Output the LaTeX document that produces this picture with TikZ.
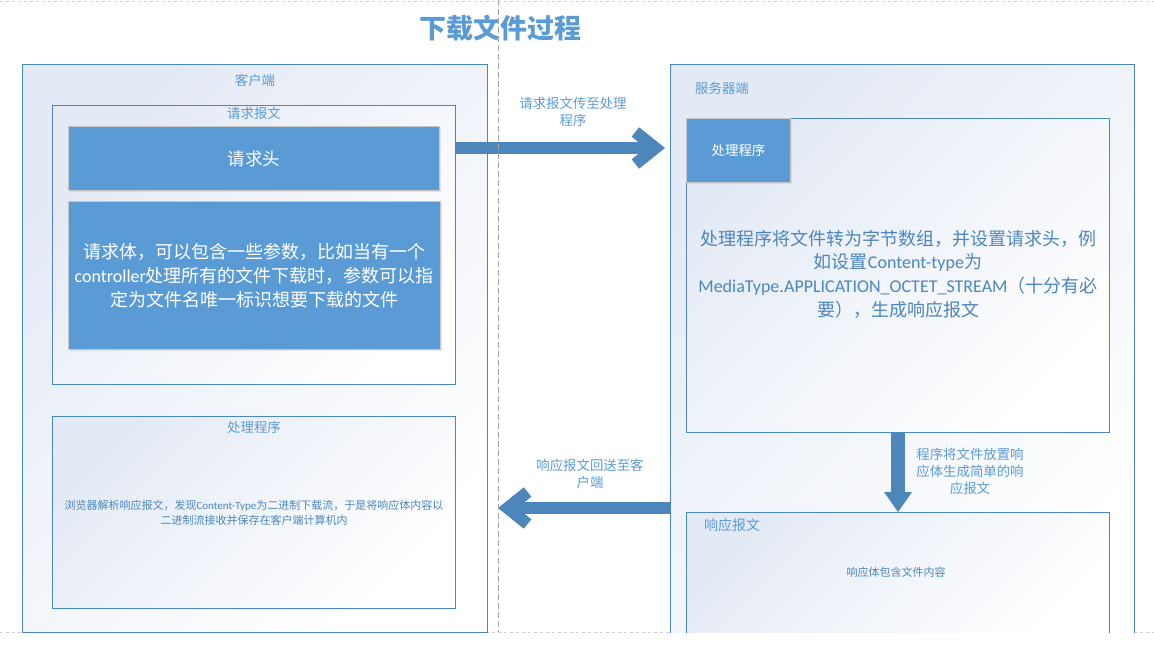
\documentclass[tikz,border=0pt]{standalone}
\usepackage{fontspec}
\setmainfont{Noto Sans CJK SC}
\newfontfamily\latf{Carlito}
\usetikzlibrary{arrows.meta,shadows,positioning}

\definecolor{boxblue}{HTML}{5B9BD5}
\definecolor{lineblue}{HTML}{4A86C0}
\definecolor{arrowblue}{HTML}{4D86BA}
\definecolor{textblue}{HTML}{5B9BD5}
\definecolor{shadebg}{HTML}{E4EAF5}

\tikzset{
  panel/.style={rectangle, draw=lineblue, line width=1pt, anchor=north west,
    top color=shadebg, bottom color=white, shading angle=45, inner sep=0pt},
  fillbox/.style={rectangle, draw=black!22, line width=1pt, fill=boxblue,
    anchor=north west, text=white, align=center,
    drop shadow={opacity=0.18, shadow xshift=1.5pt, shadow yshift=-1.5pt}},
  caption/.style={text=textblue, font=\fontsize{13.4}{17}\selectfont, align=center, inner sep=0pt},
  smalltext/.style={text=lineblue, font=\fontsize{11}{15}\selectfont, align=center, inner sep=0pt},
  fatarrow/.style={draw=arrowblue, line width=12pt,
    -{Straight Barb[length=20pt, width=32pt]}},
  downarrow/.style={draw=arrowblue, line width=14pt,
    -{Triangle[length=20pt, width=28pt, line width=0pt]}},
}

\begin{document}
\begin{tikzpicture}[x=1pt, y=-1pt]
  \useasboundingbox (0,0) rectangle (1154,649);

  % page guides
  \draw[black!18, dashed] (0,1) -- (1154,1);
  \draw[black!18, dashed] (0,632.5) -- (1154,632.5);
  \coordinate (divtop) at (498,0);
  \coordinate (divbot) at (498,632);

  \node[text=textblue, font=\fontsize{27}{30}\selectfont\bfseries] (title) at (500,28) {下载文件过程};

  % client side
  \node[panel, minimum width=465pt, minimum height=568pt] (client) at (22,64) {};
  \node[caption, below=10pt of client.north] (clientlbl) {客户端};

  \node[panel, minimum width=403pt, minimum height=279pt] (reqmsg) at (52,105) {};
  \node[caption, below=2pt of reqmsg.north] (reqmsglbl) {请求报文};
  \node[fillbox, minimum width=371pt, minimum height=64pt,
        font=\fontsize{17.5}{22}\selectfont] (reqhead) at (68,126) {请求头};
  \node[fillbox, minimum width=371pt, minimum height=148pt, text width=365pt,
        font=\fontsize{18}{24}\selectfont] (reqbody) at (68,201)
    {请求体，可以包含一些参数，比如当有一个\\{\latf controller}处理所有的文件下载时，参数可以指\\定为文件名唯一标识想要下载的文件};

  \node[panel, minimum width=403pt, minimum height=192pt] (clientproc) at (52,416) {};
  \node[caption, below=5pt of clientproc.north] (clientproclbl) {处理程序};
  \node[smalltext] (clientproctext) at (254,513)
    {浏览器解析响应报文，发现{\latf Content-Type}为二进制下载流，于是将响应体内容以\\二进制流接收并保存在客户端计算机内};

  % server side
  \begin{scope}
    \clip (660,0) rectangle (1154,632.5);
    \node[panel, minimum width=464pt, minimum height=576pt] (server) at (670,64) {};
    \node[panel, minimum width=423pt, minimum height=128pt] (resp) at (686,512) {};
  \end{scope}
  \node[caption, anchor=west] (serverlbl) at (695,88) {服务器端};

  \node[panel, minimum width=423pt, minimum height=314pt] (serverproc) at (686,118) {};
  \node[fillbox, minimum width=104pt, minimum height=64pt,
        font=\fontsize{13.4}{17}\selectfont] (proc) at (686,118) {处理程序};
  \node[text=lineblue, align=center, inner sep=0pt,
        font=\fontsize{18}{23.7}\selectfont] (serverproctext) at (898,274)
    {处理程序将文件转为字节数组，并设置请求头，例\\如设置{\latf Content-type}为\\{\latf MediaType.APPLICATION\_OCTET\_STREAM}（十分有必\\要），生成响应报文};

  \node[caption, anchor=west, font=\fontsize{14}{17}\selectfont] (resplbl) at (704,525) {响应报文};
  \node[smalltext] (resptext) at (896,572) {响应体包含文件内容};

  % connectors
  \draw[fatarrow] (reqmsg.east |- 0,148) -- ([xshift=-5pt]server.west |- 0,148);
  \node[caption] (reqlbl) at (573,112) {请求报文传至处理\\程序};

  \draw[downarrow] (serverproc.south) -- (resp.north);
  \node[caption] (downlbl) at (970,471) {程序将文件放置响\\应体生成简单的响\\应报文};

  \draw[fatarrow] (server.west |- 0,508) -- (divbot |- 0,508);
  \node[caption] (resplbl2) at (590,474) {响应报文回送至客\\户端};

  \draw[black!35, dash pattern=on 6pt off 3pt] (divtop) -- (divbot);
\end{tikzpicture}
\end{document}
